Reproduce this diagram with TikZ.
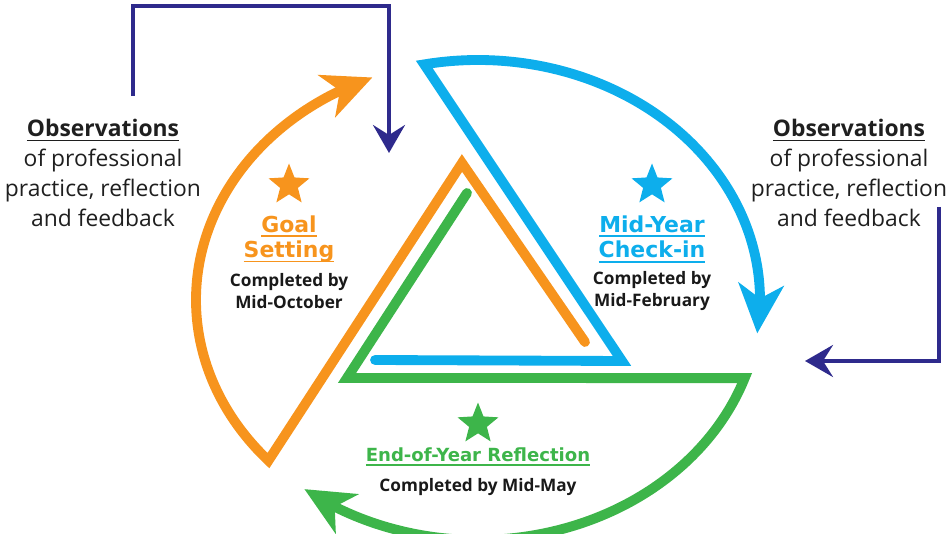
\documentclass[tikz,border=0pt]{standalone}
\usepackage{fontspec}
\setmainfont{Open Sans}
\newfontfamily\titlefont{DejaVu Sans}
\usepackage{tikz}
\usetikzlibrary{calc,arrows.meta,bending,shapes.geometric}

\definecolor{goalOrange}{HTML}{F7941D}
\definecolor{checkBlue}{HTML}{0DAEEC}
\definecolor{endGreen}{HTML}{3DB54A}
\definecolor{obsIndigo}{HTML}{2E2A8C}

% underline with a thicker bar than \underline gives
\newsavebox{\ulbox}
\newcommand{\ulbar}[1]{\sbox{\ulbox}{#1}\rlap{\rule[-2.6pt]{\wd\ulbox}{1pt}}\usebox{\ulbox}}
\newcommand{\ObsText}{\ulbar{\textbf{Observations}}\\of professional\\practice, reflection\\and feedback}
\newcommand{\DoneBy}{Completed by}

\begin{document}
\begin{tikzpicture}[x=0.02cm,y=0.02cm,>=Stealth,
    band/.style={line width=5.6pt,line cap=round,line join=miter,
      -{Stealth[length=0.98cm,width=0.9cm,inset=0.28cm]}},
    obsline/.style={line width=2.2pt,obsIndigo,
      -{Stealth[length=0.56cm,width=0.64cm,inset=0.2cm]}},
    obs/.style={align=center,text=black!88,font=\fontsize{13}{17}\selectfont},
    stagestar/.style={star,star points=5,star point ratio=2.3,fill=#1,
      minimum size=0.86cm,inner sep=0pt},
    stagetitle/.style={align=center,text=#1,inner sep=1pt,
      font=\titlefont\bfseries\fontsize{12.5}{14.7}\selectfont},
    done/.style={align=center,text=black!90,inner sep=1pt,
      font=\bfseries\fontsize{9.8}{13}\selectfont}]

  \useasboundingbox (0,0) rectangle (950,534);
  \coordinate (ctr) at (478,234);

  % straight legs first, the arc last so the tip sits on it
  \draw[band,goalOrange] (585,192) -- (462,371) -- ($(ctr)+(222:282 and 240)$)
    arc[start angle=222,end angle=112,x radius=282,y radius=240];
  \draw[band,checkBlue] (375,174) -- (622,173) -- ($(ctr)+(101:282 and 240)$)
    arc[start angle=101,end angle=-8,x radius=282,y radius=240];
  \draw[band,endGreen] (467,341) -- (347,156) -- ($(ctr)+(-19:282 and 240)$)
    arc[start angle=-19,end angle=-128,x radius=282,y radius=240];

  \node[stagestar=goalOrange] (goalStar) at (289,349) {};
  \node[node distance=1.08cm,stagetitle=goalOrange] (goalT) [below of=goalStar]
    {\ulbar{Goal}\\\ulbar{Setting}};
  \node[node distance=1.04cm,done] (goalDone) [below of=goalT] {\DoneBy\\Mid-October};

  \node[stagestar=checkBlue] (checkStar) at (652,349) {};
  \node[node distance=1.08cm,stagetitle=checkBlue] (checkT) [below of=checkStar]
    {\ulbar{Mid-Year}\\\ulbar{Check-in}};
  \node[node distance=1.04cm,done] (checkDone) [below of=checkT] {\DoneBy\\Mid-February};

  \node[stagestar=endGreen] (endStar) at (478,110) {};
  \node[node distance=0.66cm,stagetitle=endGreen,font=\titlefont\bfseries\fontsize{10.3}{12}\selectfont]
    (endT) [below of=endStar] {\ulbar{End-of-Year Reflection}};
  \node[node distance=0.6cm,done] (endDone) [below of=endT] {\DoneBy{} Mid-May};

  \node[obs] (obsL) at (103,361) {\ObsText};
  \node[obs] (obsR) at (849,361) {\ObsText};

  \coordinate (goalIn) at (389,381);
  \coordinate (checkIn) at (805,173);
  \draw[obsline] ($(obsL.north)+(30,17)$) -- ++(0,90) -| (goalIn);
  \draw[obsline] ($(obsR.east)+(-14,-34)$) |- (checkIn);
\end{tikzpicture}
\end{document}
